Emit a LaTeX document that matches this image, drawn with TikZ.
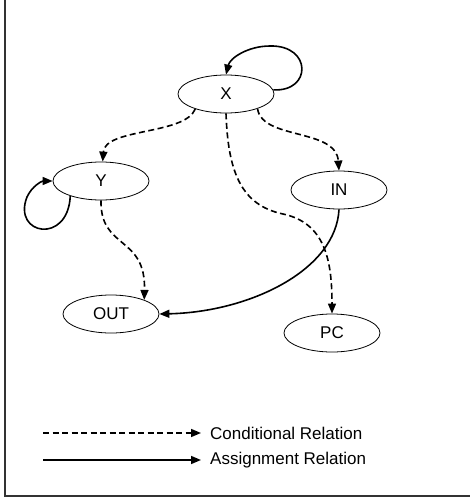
\documentclass[tikz,border=0pt]{standalone}
\usepackage{fontspec}
\setmainfont{Liberation Sans}
\usetikzlibrary{arrows.meta,shapes.geometric}
\tikzset{
  state/.style={draw=black, line width=0.8pt, ellipse, minimum width=96pt,
                minimum height=38pt, inner sep=0pt, font=\fontsize{17}{20}\selectfont},
  rel/.style={line width=1.6pt, -{Triangle[length=10pt,width=8pt]}},
  cond/.style={rel, dash pattern=on 6pt off 3.5pt},
  assign/.style={rel},
  legendtext/.style={anchor=west, inner sep=0pt, font=\fontsize{17}{20}\selectfont}
}
\begin{document}
\begin{tikzpicture}[x=1pt,y=-1pt]
  \useasboundingbox (0,0) rectangle (469,498);
  % outer frame
  \draw[line width=1.4pt, black!80] (5,-5) rectangle (475,496);

  % states
  \node[state] (X)   at (226,94)  {X};
  \node[state] (Y)   at (101,181) {Y};
  \node[state] (IN)  at (339,190) {IN};
  \node[state] (OUT) at (111,314) {OUT};
  \node[state] (PC)  at (332,333) {PC};

  % conditional relations
  \draw[cond] (X.206) .. controls (185,135) and (105,128) .. (Y.85);
  \draw[cond] (X.335) .. controls (262,140) and (336,128) .. (IN.90);
  \draw[cond] (X.270) .. controls (228,170) and (240,205) .. (283,214)
                      .. controls (325,223) and (332,260) .. (PC.90);
  \draw[cond] (Y.270) .. controls (100,250) and (146,235) .. (OUT.23);

  % assignment relations
  \draw[assign] (X.5) .. controls (312,92) and (312,45) .. (270,46)
                      .. controls (248,46) and (230,58) .. (X.90);
  \draw[assign] (Y.206) .. controls (68,245) and (12,235) .. (27,197)
                        .. controls (32,186) and (42,181) .. (Y.180);
  \draw[assign] (IN.270) .. controls (336,270) and (250,312) .. (OUT.0);

  % legend
  \coordinate (ca) at (43,433);
  \coordinate (cb) at (201,433);
  \coordinate (aa) at (43,460);
  \coordinate (ab) at (201,460);
  \draw[cond] (ca) -- (cb);
  \draw[assign] (aa) -- (ab);
  \node[legendtext] (lc) at (210,433) {Conditional Relation};
  \node[legendtext] (la) at (210,460) {Assignment Relation};
\end{tikzpicture}
\end{document}
